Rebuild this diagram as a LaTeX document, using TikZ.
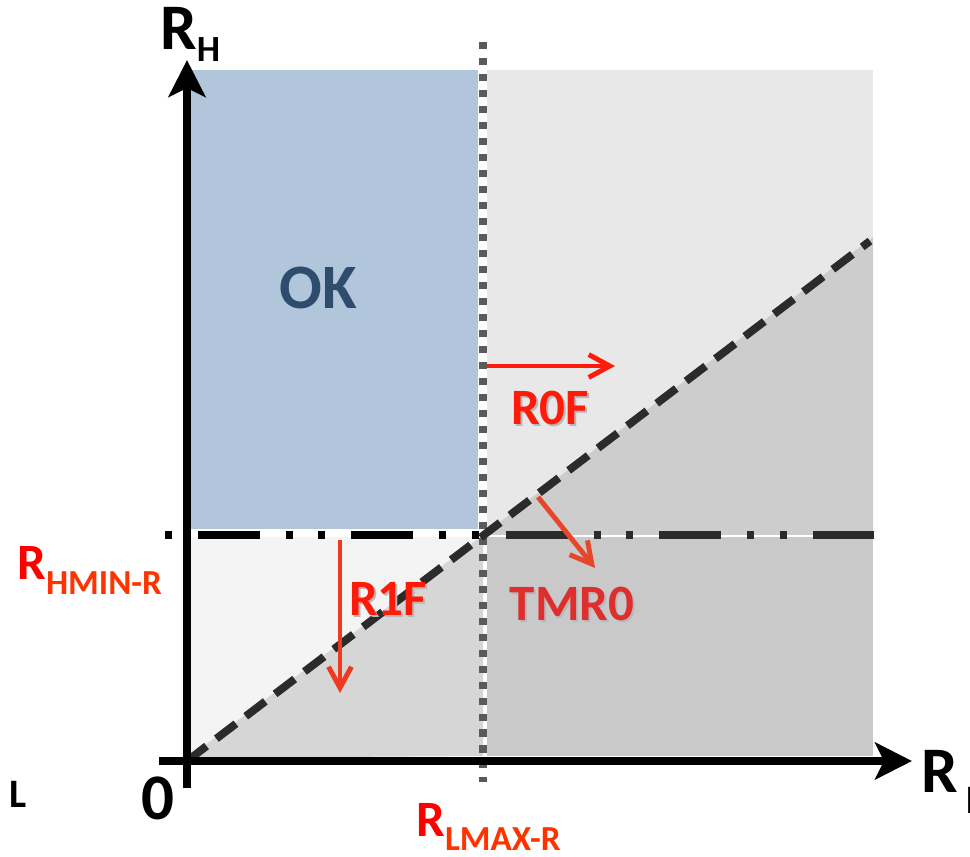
\documentclass[tikz,border=0pt]{standalone}
\usepackage{fontspec}
\setmainfont{Carlito}
\usepackage{tikz}
\usetikzlibrary{arrows.meta}
\definecolor{okblue}{HTML}{B1C5DB}
\definecolor{oktext}{HTML}{2E4C6E}
\definecolor{upperright}{HTML}{E8E8E8}
\definecolor{upperlow}{HTML}{CDCDCD}
\definecolor{lowerleft}{HTML}{F4F4F4}
\definecolor{lowerlow}{HTML}{D6D6D6}
\definecolor{lowerright}{HTML}{C9C9C9}
\definecolor{limitgray}{HTML}{5A5A5A}
\definecolor{diaggray}{HTML}{2B2B2B}
\definecolor{failred}{HTML}{FF1A0A}
\definecolor{tmrred}{HTML}{DE2E2E}
\definecolor{driftred}{HTML}{E8462A}
\definecolor{limitred}{HTML}{FF0000}
\definecolor{limitsub}{HTML}{FF3300}

\newcommand{\rlabel}[4]{{\fontsize{#1}{#1}\selectfont R}\raisebox{-#3}{\fontsize{#2}{#2}\selectfont #4}}
\newcommand{\shadowed}[1]{\makebox[0pt][l]{\hspace{1.2pt}\raisebox{-1.2pt}{\color{black!28}#1}}#1}

\begin{document}
\begin{tikzpicture}[
  x=0.02cm,y=-0.02cm,
  axis/.style={line width=4pt,-{Stealth[length=21pt,width=21pt,inset=5pt]}},
  dashdot/.style={line width=4pt,dash pattern=on 4pt off 14.7pt on 35.2pt off 14.7pt on 4pt off 14.7pt},
  dotline/.style={line width=4pt,limitgray,dash pattern=on 4pt off 5.1pt},
  drift/.style={line width=2.8pt,-{Straight Barb[length=12pt,width=13pt]}},
  lbl/.style={inner sep=0pt,font=\bfseries}
]
  \useasboundingbox (0,0) rectangle (970,857);

  \fill[okblue] (190,70) rectangle (478,529);
  \fill[upperright] (487,70) rectangle (873,535);
  \fill[upperlow] (483,535) -- (873,237) -- (873,535) -- cycle;
  \fill[lowerleft] (190,537) rectangle (480,756);
  \fill[lowerlow] (188,758) -- (483,535) -- (483,756) -- cycle;
  \fill[lowerright] (487,537) rectangle (873,756);

  \coordinate (origin) at (187,761);
  \coordinate (hstart) at (159,761);
  \coordinate (hend) at (912,761);
  \coordinate (vstart) at (187,788);
  \coordinate (vend) at (187,60);
  \coordinate (cross) at (483,535);
  \coordinate (dleft) at (165,535);
  \coordinate (dright) at (875,535);
  \coordinate (vtop) at (483,42);
  \coordinate (vbot) at (483,782);
  \coordinate (diagend) at (870,241);

  \draw[dashdot,black] (dleft) -- (cross);
  \draw[dashdot,diaggray,dash phase=5.7pt] (cross) -- (dright);
  \draw[dotline] (vtop) -- (vbot);
  \draw[line width=4.5pt,diaggray,dash pattern=on 14pt off 7pt] (origin) -- (diagend);

  \draw[axis] (hstart) -- (hend);
  \draw[axis] (vstart) -- (vend);

  \coordinate (rofstart) at (487,366);
  \coordinate (rofend) at (615,366);
  \coordinate (rfstart) at (340,540);
  \coordinate (rfend) at (340,693);
  \coordinate (tmrstart) at (538,497);
  \coordinate (tmrend) at (595,568);

  \draw[drift,failred] (rofstart) -- (rofend);
  \draw[drift,driftred!70!failred] (rfstart) -- (rfend);
  \draw[drift,driftred] (tmrstart) -- (tmrend);

  \node[lbl,text=oktext,font=\bfseries\fontsize{36pt}{36pt}\selectfont] (ok) at (318,288) {OK};
  \node[lbl,text=failred,font=\bfseries\fontsize{29pt}{29pt}\selectfont] (rof) at (550,409) {\shadowed{R0F}};
  \node[lbl,text=failred,font=\bfseries\fontsize{29pt}{29pt}\selectfont] (rf) at (388,600) {\shadowed{R1F}};
  \node[lbl,text=tmrred,font=\bfseries\fontsize{29pt}{29pt}\selectfont] (tmr) at (572,605) {\shadowed{TMR0}};

  \node[lbl,anchor=base west] (rh) at (160,50) {\rlabel{37pt}{21pt}{6.8pt}{H}};
  \node[lbl,anchor=base west] (rl) at (921,792) {\rlabel{37pt}{23pt}{12.5pt}{\hspace{5pt}L}};
  \node[lbl,anchor=base west] (rlcut) at (-36,788) {\rlabel{37pt}{23pt}{11pt}{\hspace{4.8pt}L}};
  \node[lbl,font=\bfseries\fontsize{37pt}{37pt}\selectfont] (zero) at (158,798) {0};
  \node[lbl,anchor=base west,text=limitred] (rhmin) at (17,580) {\rlabel{29pt}{20pt}{8pt}{\color{limitsub}HMIN-R}};
  \node[lbl,anchor=base west,text=limitred] (rlmax) at (416,836) {\rlabel{29pt}{20pt}{8pt}{\color{limitsub}LMAX-R}};
\end{tikzpicture}
\end{document}
